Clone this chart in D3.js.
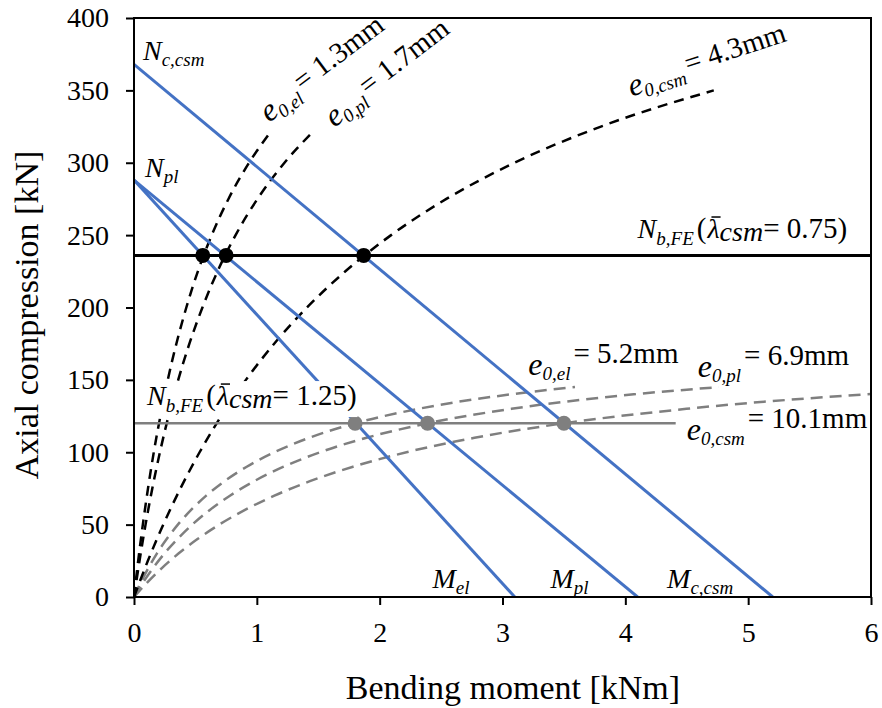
<!DOCTYPE html>
<html>
<head>
<meta charset="utf-8">
<title></title>
<script src="https://cdn.jsdelivr.net/npm/d3@7"></script>
<style type="text/css">
	body{
		margin: 0;
		padding: 0;
		background: #fff;
	}
	svg{
		display: block;
	}
	text{
		font-family: "Liberation Serif", "Times New Roman", serif;
		fill: #000;
	}
</style>
</head>
<body>
<svg id="svg" width="882" height="708"></svg>
<script type="text/javascript">
	// ticks
	const mTicks = [0, 1, 2, 3, 4, 5, 6];
	const nTicks = [0, 50, 100, 150, 200, 250, 300, 350, 400];

	// interaction lines [M kNm, N kN]
	const lineEl = [[0, 288], [3.1, 0]];
	const linePl = [[0, 288], [4.1, 0]];
	const lineCsm = [[0, 368], [5.2, 0]];

	// load paths, lambda = 0.75 (black dashed)
	const blackEl = [[0, 0], [0.034, 25], [0.072, 50], [0.114, 75], [0.161, 100], [0.215, 125], [0.275, 150], [0.345, 175], [0.426, 200], [0.520, 225], [0.633, 250], [0.769, 275], [0.937, 300], [1.10, 320]];
	const blackPl = [[0, 0], [0.045, 25], [0.094, 50], [0.149, 75], [0.211, 100], [0.281, 125], [0.360, 150], [0.451, 175], [0.557, 200], [0.680, 225], [0.827, 250], [1.005, 275], [1.225, 300], [1.44, 320]];
	const blackCsm = [[0, 0], [0.113, 25], [0.238, 50], [0.378, 75], [0.534, 100], [0.710, 125], [0.911, 150], [1.141, 175], [1.408, 200], [1.721, 225], [2.093, 250], [2.543, 275], [3.098, 300], [3.801, 325], [4.72, 350]];

	// load paths, lambda = 1.25 (grey dashed)
	const greyEl = [[0, 0], [0.055, 10], [0.117, 20], [0.186, 30], [0.266, 40], [0.357, 50], [0.463, 60], [0.588, 70], [0.737, 80], [0.918, 90], [1.142, 100], [1.427, 110], [1.801, 120], [2.316, 130], [3.066, 140], [3.59, 145]];
	const greyPl = [[0, 0], [0.073, 10], [0.155, 20], [0.247, 30], [0.353, 40], [0.474, 50], [0.615, 60], [0.781, 70], [0.978, 80], [1.218, 90], [1.515, 100], [1.893, 110], [2.390, 120], [3.073, 130], [4.068, 140], [4.76, 145]];
	const greyCsm = [[0, 0], [0.107, 10], [0.227, 20], [0.362, 30], [0.517, 40], [0.694, 50], [0.900, 60], [1.143, 70], [1.432, 80], [1.783, 90], [2.218, 100], [2.772, 110], [3.499, 120], [4.497, 130], [6.0, 140.3]];

	// FE buckling loads
	const nbBlack = [[0, 236], [6, 236]];
	const nbGrey = [[0, 120], [4.41, 120]];
	const dotsBlack = [[0.56, 236], [0.75, 236], [1.87, 236]];
	const dotsGrey = [[1.80, 120], [2.39, 120], [3.50, 120]];

	const svg = d3.select('#svg');
	const x = d3.scaleLinear().domain([0, 6]).range([134, 871]);
	const y = d3.scaleLinear().domain([0, 400]).range([597, 18]);

	svg.append('clipPath').attr('id', 'plot')
		.append('rect')
		.attr('x', x(0)).attr('y', y(400))
		.attr('width', x(6) - x(0)).attr('height', y(0) - y(400));

	const line = d3.line().x(d => x(d[0])).y(d => y(d[1]));
	const curve = d3.line().x(d => x(d[0])).y(d => y(d[1])).curve(d3.curveMonotoneX);

	const plot = svg.append('g').attr('clip-path', 'url(#plot)');

	[greyEl, greyPl, greyCsm].forEach(function(d){
		plot.append('path').attr('d', curve(d))
			.style('fill', 'none').style('stroke', '#7f7f7f')
			.style('stroke-width', 2.5).style('stroke-dasharray', '12,7');
	});
	[blackEl, blackPl, blackCsm].forEach(function(d){
		plot.append('path').attr('d', curve(d))
			.style('fill', 'none').style('stroke', '#000')
			.style('stroke-width', 2.5).style('stroke-dasharray', '10,7');
	});
	[lineEl, linePl, lineCsm].forEach(function(d){
		plot.append('path').attr('d', line(d))
			.style('fill', 'none').style('stroke', '#4472c4')
			.style('stroke-width', 3);
	});

	plot.append('path').attr('d', line(nbBlack))
		.style('stroke', '#000').style('stroke-width', 3);
	plot.append('path').attr('d', line(nbGrey))
		.style('stroke', '#7f7f7f').style('stroke-width', 2.5);

	plot.selectAll('.dotB').data(dotsBlack).enter().append('circle')
		.attr('cx', d => x(d[0])).attr('cy', d => y(d[1])).attr('r', 7.5)
		.style('fill', '#000');
	plot.selectAll('.dotG').data(dotsGrey).enter().append('circle')
		.attr('cx', d => x(d[0])).attr('cy', d => y(d[1])).attr('r', 7.5)
		.style('fill', '#7f7f7f');

	// axes
	const xAxis = svg.append('g').attr('transform', 'translate(0,' + y(0) + ')')
		.call(d3.axisBottom(x).tickValues(mTicks).tickSize(8).tickSizeOuter(0).tickPadding(17).tickFormat(d3.format('d')));
	const yAxis = svg.append('g').attr('transform', 'translate(' + x(0) + ',0)')
		.call(d3.axisLeft(y).tickValues(nTicks).tickSize(8).tickSizeOuter(0).tickPadding(17).tickFormat(d3.format('d')));
	[xAxis, yAxis].forEach(function(a){
		a.select('.domain').remove();
		a.selectAll('line').style('stroke', '#000').style('stroke-width', 2);
		a.selectAll('text').style('font-size', '28px').style('font-family', '"Liberation Serif", serif').style('fill', '#000');
	});

	svg.append('rect')
		.attr('x', x(0)).attr('y', y(400))
		.attr('width', x(6) - x(0)).attr('height', y(0) - y(400))
		.style('fill', 'none').style('stroke', '#000').style('stroke-width', 2);

	svg.append('text')
		.attr('transform', 'translate(38,315) rotate(-90)')
		.attr('text-anchor', 'middle')
		.style('font-size', '34px')
		.text('Axial compression [kN]');
	svg.append('text')
		.attr('x', 513).attr('y', 699)
		.attr('text-anchor', 'middle')
		.style('font-size', '34px')
		.text('Bending moment [kNm]');

	// labels made of pieces: [text, size, italic, dy, dx]
	function eqText(pos, rot, parts){
		let g = svg.append('g')
			.attr('transform', 'translate(' + x(pos[0]) + ',' + y(pos[1]) + ') rotate(' + rot + ')');
		let t = g.append('text');
		parts.forEach(function(p){
			t.append('tspan').text(p[0])
				.style('font-size', p[1] + 'px')
				.style('font-style', p[2] ? 'italic' : 'normal')
				.attr('dy', p[3] || 0)
				.attr('dx', p[4] || 0);
		});
		return g;
	}
	function eLabel(pos, rot, sub, val, lift){
		return eqText(pos, rot, [['e', 32, 1, 0], [sub, 19, 1, 5], ['= ' + val, 29, 0, -5 - lift, 3]]);
	}
	function nLabel(pos, main, sub){
		return eqText(pos, 0, [[main, 28, 1, 0], [sub, 19, 1, 6]]);
	}
	function nbLabel(pos, val, bg){
		let g = eqText(pos, 0, [['N', 28, 1, 0], ['b,FE', 19, 1, 7], ['(', 29, 0, -7, 3], ['\u03bb', 28, 1, 0, 1], ['csm', 28, 1, 3], ['= ' + val + ')', 29, 0, -3]]);
		let t = g.select('text').node();
		if(bg){
			let bb = t.getBBox();
			g.insert('rect', 'text')
				.attr('x', bb.x - 5).attr('y', bb.y + 2)
				.attr('width', bb.width + 6).attr('height', bb.height - 1)
				.style('fill', '#fff');
		}
		// bar over lambda
		let ext = t.getExtentOfChar(6);
		g.append('line')
			.attr('x1', ext.x + 4).attr('x2', ext.x + ext.width + 1)
			.attr('y1', ext.y + 4).attr('y2', ext.y + 4)
			.style('stroke', '#000').style('stroke-width', 1.5);
		return g;
	}

	nLabel([0.073, 371], 'N', 'c,csm');
	nLabel([0.09, 290], 'N', 'pl');
	nLabel([2.43, 6.2], 'M', 'el');
	nLabel([3.39, 6.2], 'M', 'pl');
	nLabel([4.34, 6.2], 'M', 'c,csm');

	eLabel([1.10, 327.5], -37, '0,el', '1.3mm', 5);
	eLabel([1.63, 324], -37.5, '0,pl', '1.7mm', 5);
	eLabel([4.05, 345.6], -18, '0,csm', '4.3mm', 5);
	eLabel([3.21, 153.4], 0, '0,el', '5.2mm', 12);
	eLabel([4.59, 152], 0, '0,pl', '6.9mm', 12);
	eLabel([4.50, 108.5], 0, '0,csm', '10.1mm', 12);

	nbLabel([4.10, 248], '0.75', false);
	nbLabel([0.106, 132.6], '1.25', true);
</script>
</body>
</html>
